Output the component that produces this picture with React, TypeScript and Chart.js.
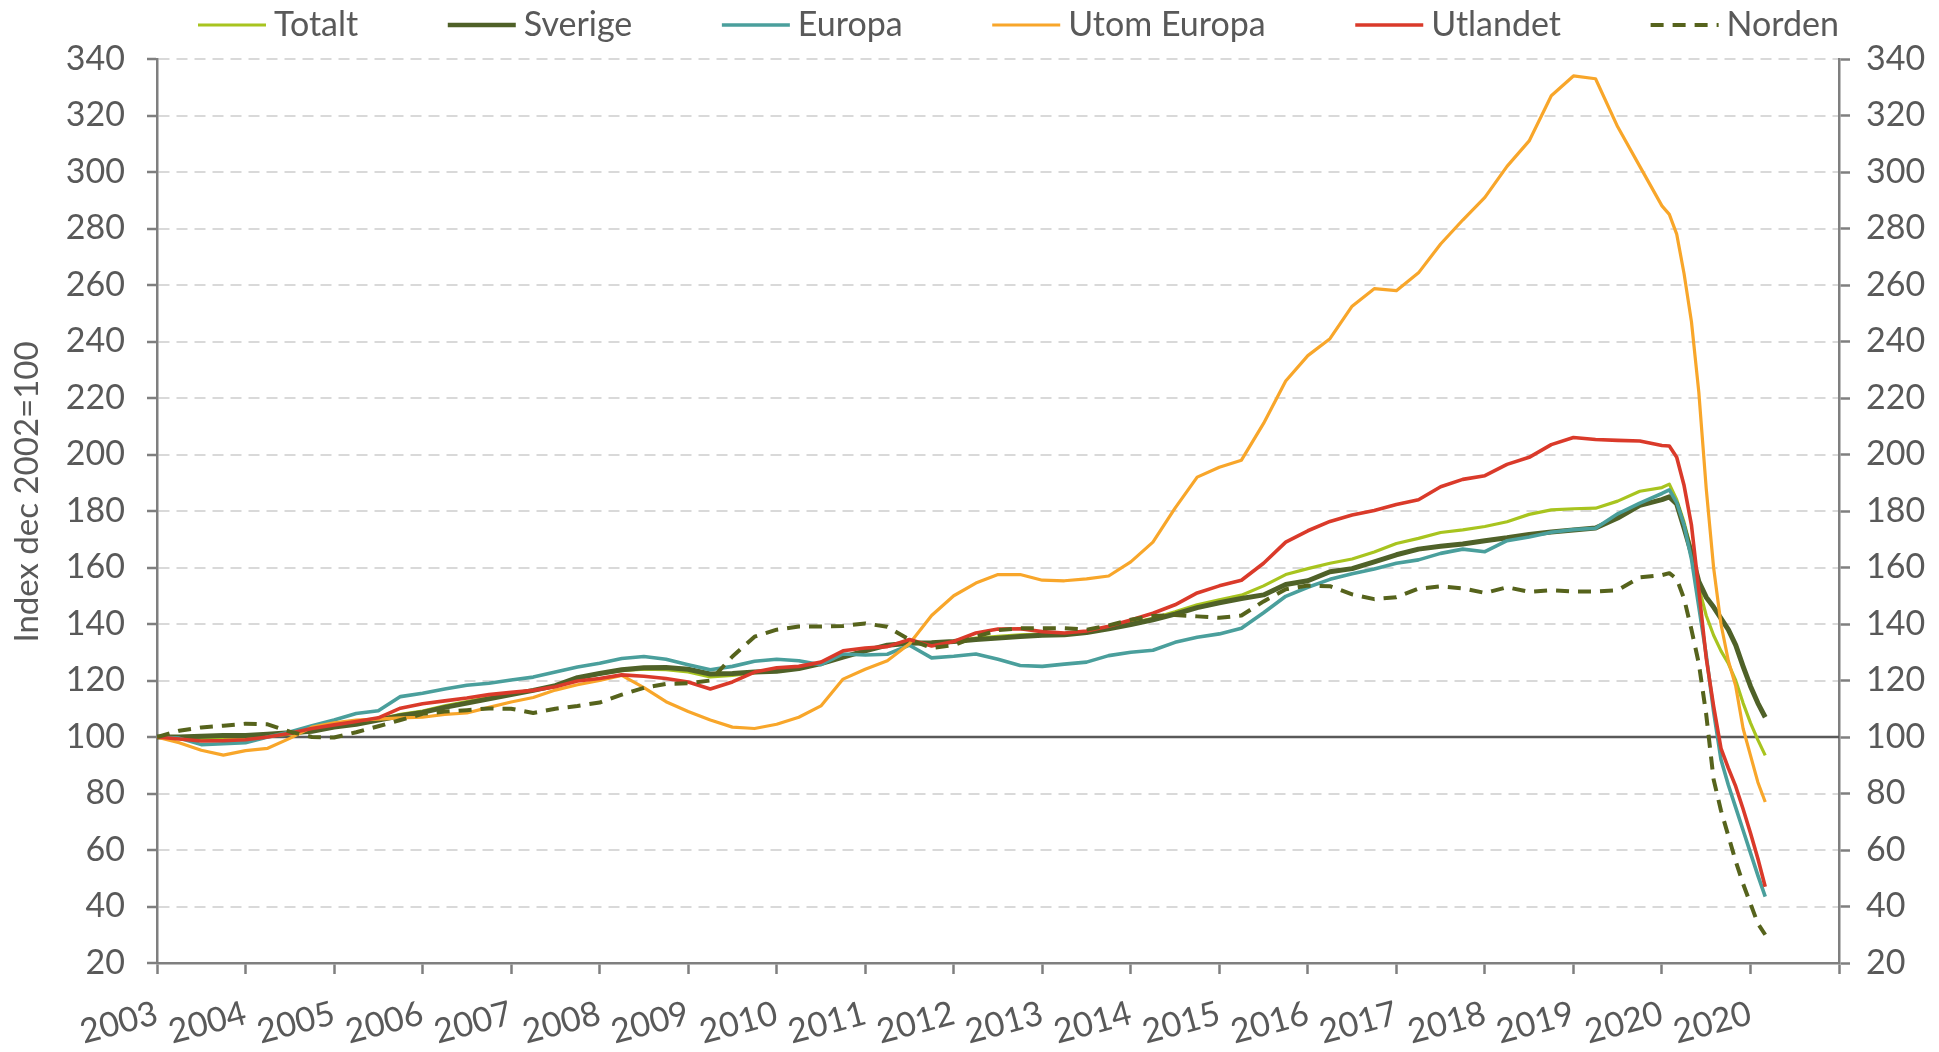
import { useEffect, useRef } from 'react';
import { Chart, registerables } from 'chart.js';

Chart.register(...registerables);

// Months since Dec 2002 (index 0 = Dec 2002 = 100)
const MONTHS = [
  0, 3, 6, 9, 12, 15, 18, 21, 24, 27, 30, 33, 36, 39, 42, 45, 48, 51, 54, 57,
  60, 63, 66, 69, 72, 75, 78, 81, 84, 87, 90, 93, 96, 99, 102, 105, 108, 111, 114, 117,
  120, 123, 126, 129, 132, 135, 138, 141, 144, 147, 150, 153, 156, 159, 162, 165, 168, 171, 174, 177,
  180, 183, 186, 189, 192, 195, 198, 201, 204,
  205, 206, 207, 208, 209, 210, 211, 212, 213, 214, 215, 216, 217, 218,
];

const YEAR_LABELS = [
  '2003', '2004', '2005', '2006', '2007', '2008', '2009', '2010', '2011', '2012',
  '2013', '2014', '2015', '2016', '2017', '2018', '2019', '2020', '2020',
];

const Y_TITLE = 'Index dec 2002=100';

const TOTALT = [
  100, 99.8, 99.5, 99.5, 99.8, 100.3, 101, 102, 103.5, 104.8, 106.3, 108, 109.2, 111, 112.5, 114, 115.3, 116.5, 118.2, 120.8,
  122.3, 123.5, 124, 123.8, 123, 121.3, 121.8, 122.8, 123.3, 124.2,
  126.2, 128.5, 130.7, 132.5, 133.3, 133.2, 133.8, 135, 135.6, 136.2,
  136.4, 136.4, 137.4, 138.6, 140.3, 142, 144.3, 146.8, 148.6, 150.2,
  153.5, 157.5, 159.6, 161.5, 163, 165.5, 168.5, 170.3, 172.4, 173.3,
  174.5, 176.2, 178.8, 180.4, 180.8, 181, 183.5, 187, 188.3,
  189.5, 184, 176, 166, 153, 143, 136, 130.5, 126, 120, 112, 105, 99, 93.5,
];

const SVERIGE = [
  100, 100, 100.3, 100.5, 100.5, 101, 101.5, 102, 103.5, 104.5, 106, 107.5, 108.7, 110.5, 112, 113.5, 115, 116.5, 118.2, 121,
  122.5, 123.8, 124.5, 124.6, 124, 122.3, 122.5, 123, 123.3, 124.2,
  126, 128.3, 130.5, 132.5, 133.2, 133.4, 133.8, 134.5, 135, 135.6,
  136, 136.2, 137, 138.3, 139.8, 141.5, 143.5, 145.8, 147.5, 149,
  150.3, 154, 155.3, 158.5, 159.6, 162, 164.5, 166.5, 167.5, 168.3,
  169.5, 170.5, 171.7, 172.6, 173.3, 174, 177.5, 182, 184,
  185, 182.5, 174, 165, 155, 149.5, 146, 142, 138, 132.5, 125, 118, 112, 107,
];

const EUROPA = [
  100, 99.6, 97.3, 97.6, 98, 100, 101.8, 104, 106, 108.3, 109.3, 114.3, 115.5, 117, 118.3, 119, 120.2, 121.2, 123, 124.8,
  126.1, 127.8, 128.5, 127.5, 125.6, 123.8, 125, 126.8, 127.5, 127,
  125.6, 129.4, 129, 129.3, 132.5, 128, 128.6, 129.4, 127.5, 125.3,
  125, 125.8, 126.5, 128.8, 130, 130.7, 133.5, 135.3, 136.5, 138.5,
  144, 149.8, 153, 155.8, 157.8, 159.5, 161.5, 162.7, 165, 166.5,
  165.6, 169.5, 170.8, 172.5, 173.4, 173.9, 179, 182.8, 186.2,
  187.5, 183, 175, 163, 146, 129, 109, 92, 83, 75, 67, 59, 51, 43.5,
];

const UTOM_EUROPA = [
  100, 98, 95.3, 93.6, 95.2, 96, 99.5, 103.5, 105, 106, 106.3, 106.8, 107, 108, 108.5, 110.5, 112.4, 114, 116.6, 118.5,
  120, 121.8, 117.5, 112.5, 109, 106, 103.5, 103, 104.5, 107,
  111, 120.5, 124, 127, 133, 143, 150, 154.5, 157.5, 157.5,
  155.5, 155.3, 156, 157, 162, 169, 181, 192, 195.5, 198,
  211, 226, 235, 241, 252.5, 258.7, 258, 264.3, 274.5, 283,
  291, 302, 311, 327, 334, 333, 316, 302, 288,
  285, 278, 264, 247, 222, 188, 160, 140, 127, 118, 103, 93.5, 84, 77,
];

const UTLANDET = [
  100, 99.3, 98.6, 98.7, 99, 100, 101.3, 103, 104.3, 105.5, 106.8, 110.2, 111.8, 112.8, 113.8, 115, 115.8, 116.5, 117.8, 119.8,
  120.7, 122, 121.5, 120.7, 119.5, 117, 119.5, 123, 124.5, 125,
  126.5, 130.5, 131.5, 132, 134.5, 132.2, 133.8, 136.8, 138.2, 138.3,
  137.3, 136.8, 137.5, 139.2, 141.4, 143.8, 146.8, 151, 153.5, 155.5,
  161.5, 169, 173, 176.3, 178.6, 180.2, 182.3, 184, 188.6, 191.2,
  192.5, 196.5, 199, 203.5, 206, 205.3, 205, 204.8, 203.2,
  203, 199, 189, 175, 152, 128, 111, 96, 89, 82.5, 74.5, 66, 57, 47,
];

const NORDEN = [
  100, 102.2, 103.4, 104, 104.7, 104.5, 101.9, 100, 99.8, 101.7, 103.8, 106, 108.2, 109, 109.5, 110.1, 110, 108.5, 110, 111,
  112.2, 115, 117.4, 118.8, 119, 120, 128.5, 135.5, 138, 139.1,
  139.1, 139.3, 140.2, 139, 134.5, 131.5, 132.5, 135.5, 137.8, 138.5,
  138.5, 138.5, 138, 139.5, 141.5, 142.8, 143.2, 142.7, 142.2, 143,
  148, 152.3, 153.6, 153.4, 150.5, 148.8, 149.5, 152.5, 153.3, 152.6,
  151, 153, 151.4, 152, 151.5, 151.5, 152, 156.5, 157.3,
  158, 156, 149, 138, 126, 108, 85, 74, 65, 56, 48, 41, 34, 30,
];

const FONT = 'Lato, "Open Sans", sans-serif';
const TEXT = '#595959';
const AXIS = '#7f7f7f';
const FONT_SIZE = 34;

const toPoints = (vals: number[]) => MONTHS.map((m, i) => ({ x: m, y: vals[i] }));

const baselinePlugin = {
  id: 'baseline100',
  beforeDatasetsDraw(chart: any) {
    const { ctx, chartArea, scales } = chart;
    const y = scales.y.getPixelForValue(100);
    ctx.save();
    ctx.strokeStyle = '#595959';
    ctx.lineWidth = 2.5;
    ctx.beginPath();
    ctx.moveTo(chartArea.left, y);
    ctx.lineTo(chartArea.right, y);
    ctx.stroke();
    ctx.restore();
  },
};

const yTitlePlugin = {
  id: 'yTitle',
  afterDraw(chart: any) {
    const { ctx, chartArea } = chart;
    ctx.save();
    ctx.font = `33px ${FONT}`;
    ctx.fillStyle = TEXT;
    ctx.textAlign = 'center';
    ctx.textBaseline = 'middle';
    ctx.translate(19, (chartArea.top + chartArea.bottom) / 2 - 19);
    ctx.rotate(-Math.PI / 2);
    ctx.fillText(Y_TITLE, 0, 0);
    ctx.restore();
  },
};

const legendPlugin = {
  id: 'lineLegend',
  afterDraw(chart: any) {
    const { ctx, chartArea } = chart;
    const ds = chart.data.datasets;
    ctx.save();
    ctx.font = `${FONT_SIZE}px ${FONT}`;
    const sample = 68;
    const gapText = 8;
    const widths = ds.map((d: any) => ctx.measureText(d.label).width);
    const left = chartArea.left + 41;
    const right = chartArea.right;
    const used = widths.reduce((s: number, w: number) => s + sample + gapText + w, 0);
    const gap = (right - left - used) / (ds.length - 1);
    const y = chartArea.top - 34;
    let x = left;
    ds.forEach((d: any, i: number) => {
      ctx.strokeStyle = d.borderColor;
      ctx.lineWidth = Math.min(d.borderWidth, 4.5);
      ctx.setLineDash(d.borderDash || []);
      ctx.beginPath();
      ctx.moveTo(x, y);
      ctx.lineTo(x + sample, y);
      ctx.stroke();
      ctx.setLineDash([]);
      ctx.fillStyle = TEXT;
      ctx.textBaseline = 'middle';
      ctx.textAlign = 'left';
      ctx.fillText(d.label, x + sample + gapText, y);
      x += sample + gapText + widths[i] + gap;
    });
    ctx.restore();
  },
};

export default function App() {
  const ref = useRef<HTMLCanvasElement | null>(null);

  useEffect(() => {
    if (!ref.current) return;
    const tickFont = { family: FONT, size: FONT_SIZE };
    const chart = new Chart(ref.current, {
      type: 'line',
      data: {
        datasets: [
          { label: 'Totalt', data: toPoints(TOTALT), borderColor: '#A8C41F', borderWidth: 3.2, order: 5 },
          { label: 'Sverige', data: toPoints(SVERIGE), borderColor: '#4F6128', borderWidth: 5, order: 4 },
          { label: 'Europa', data: toPoints(EUROPA), borderColor: '#4A9F9C', borderWidth: 3.6, order: 3 },
          { label: 'Utom Europa', data: toPoints(UTOM_EUROPA), borderColor: '#F8A62A', borderWidth: 3.2, order: 2 },
          { label: 'Utlandet', data: toPoints(UTLANDET), borderColor: '#DA3A2A', borderWidth: 3.6, order: 1 },
          { label: 'Norden', data: toPoints(NORDEN), borderColor: '#56631C', borderWidth: 4, borderDash: [13, 9], order: 0 },
        ].map((d) => ({ ...d, pointRadius: 0, tension: 0, fill: false, borderJoinStyle: 'round' as const })),
      },
      options: {
        animation: false,
        responsive: true,
        maintainAspectRatio: false,
        layout: { padding: { top: 51, left: 0, right: 0, bottom: 0 } },
        plugins: { legend: { display: false }, tooltip: { enabled: false } },
        scales: {
          x: {
            type: 'linear',
            min: 0,
            max: 228,
            afterFit: (s: any) => { s.height = 81; },
            ticks: {
              stepSize: 12,
              autoSkip: false,
              minRotation: 15,
              maxRotation: 15,
              color: TEXT,
              font: tickFont,
              padding: 19,
              callback: (_v: any, i: number) => YEAR_LABELS[i] ?? '',
            },
            grid: { display: true, drawOnChartArea: false, drawTicks: true, tickLength: 11, tickColor: AXIS, tickWidth: 2.5 },
            border: { display: true, color: AXIS, width: 2.5 },
          },
          y: {
            position: 'left',
            min: 20,
            max: 340,
            afterFit: (s: any) => { s.width = 149; },
            ticks: { stepSize: 20, autoSkip: false, color: TEXT, font: tickFont, padding: 22 },
            grid: { color: '#d9d9d9', lineWidth: 2, drawTicks: true, tickLength: 10, tickColor: AXIS, tickWidth: 2.5 },
            border: { display: true, color: AXIS, width: 2.5, dash: [11, 7] },
          },
          y2: {
            position: 'right',
            min: 20,
            max: 340,
            afterFit: (s: any) => { s.width = 92; },
            ticks: { stepSize: 20, autoSkip: false, color: TEXT, font: tickFont, padding: 16 },
            grid: { drawOnChartArea: false, drawTicks: true, tickLength: 11, tickColor: AXIS, tickWidth: 2.5 },
            border: { display: true, color: AXIS, width: 2.5 },
          },
        },
      },
      plugins: [baselinePlugin, legendPlugin, yTitlePlugin],
    } as any);
    return () => chart.destroy();
  }, []);

  return (
    <div style={{ width: '100%', height: 1036, position: 'relative' }}>
      <canvas ref={ref} />
    </div>
  );
}
